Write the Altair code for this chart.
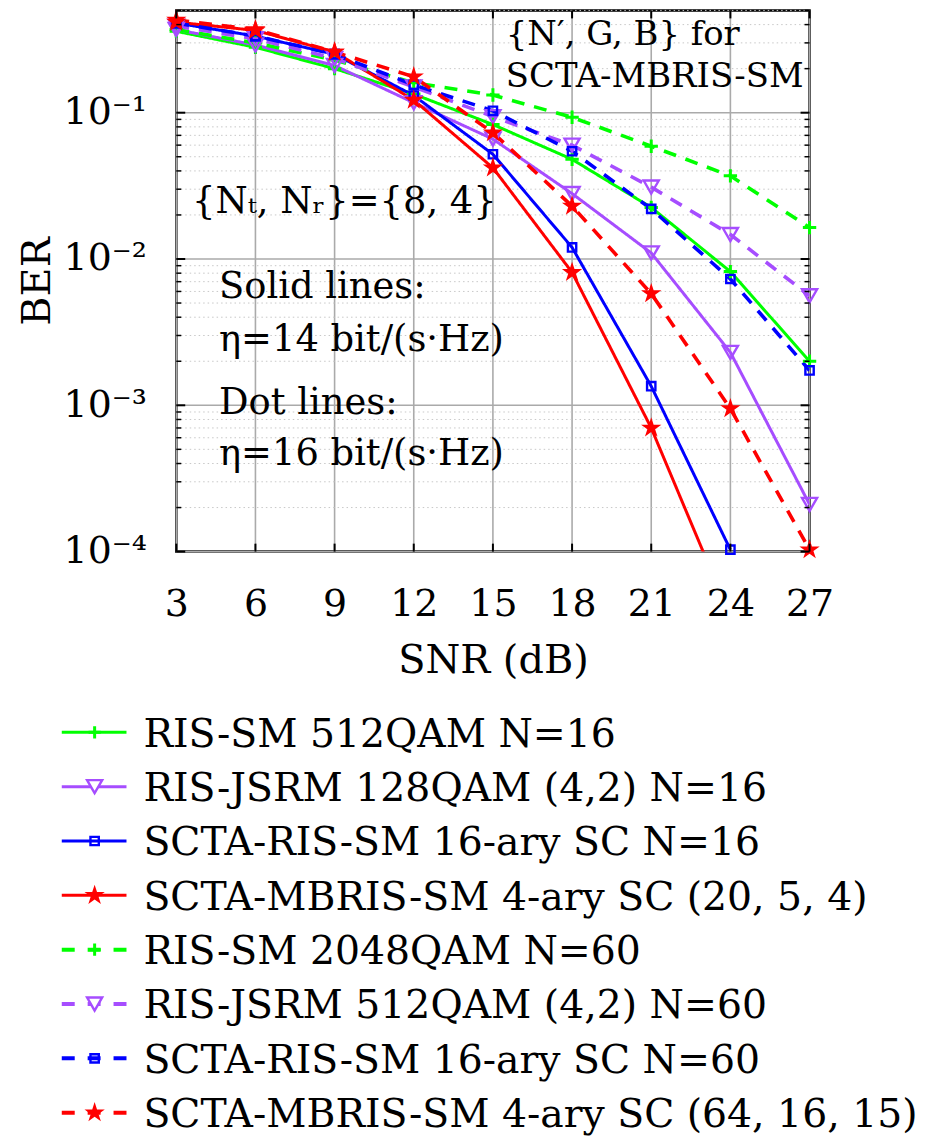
import altair as alt
import pandas as pd

FONT = "DejaVu Serif"

# ---------------- data ----------------
snr = [3, 6, 9, 12, 15, 18, 21, 24, 27]

series_names = [
    "RIS-SM 512QAM N=16",
    "RIS-JSRM 128QAM (4,2) N=16",
    "SCTA-RIS-SM 16-ary SC N=16",
    "SCTA-MBRIS-SM 4-ary SC (20, 5, 4)",
    "RIS-SM 2048QAM N=60",
    "RIS-JSRM 512QAM (4,2) N=60",
    "SCTA-RIS-SM 16-ary SC N=60",
    "SCTA-MBRIS-SM 4-ary SC (64, 16, 15)",
]
series_style = ["solid", "solid", "solid", "solid", "dash", "dash", "dash", "dash"]
series_marker = ["plus", "tri", "square", "star", "plus", "tri", "square", "star"]
series_colors = ["#00ff00", "#a64dff", "#0000ff", "#ff0000",
                 "#00ff00", "#a64dff", "#0000ff", "#ff0000"]

ris_sm_512 = [0.36, 0.28, 0.20, 0.134, 0.083, 0.048, 0.0225, 0.0082, 0.0020]
ris_jsrm_128 = [0.37, 0.29, 0.21, 0.117, 0.066, 0.028, 0.011, 0.0023, 0.00021]
scta_ris_16 = [0.41, 0.334, 0.251, 0.131, 0.052, 0.012, 0.00135, 0.000103, None]
scta_mbris_20 = [0.416, 0.365, 0.26, 0.122, 0.042, 0.0081, 0.0007, 0.000036, None]
ris_sm_2048 = [0.37, 0.30, 0.229, 0.16, 0.132, 0.093, 0.059, 0.037, 0.0164]
ris_jsrm_512 = [0.39, 0.32, 0.235, 0.15, 0.094, 0.060, 0.031, 0.0147, 0.0056]
scta_ris_16_60 = [0.41, 0.334, 0.251, 0.155, 0.103, 0.0545, 0.022, 0.0073, 0.00173]
scta_mbris_64 = [0.43, 0.37, 0.26, 0.176, 0.073, 0.023, 0.0058, 0.00095, 0.000103]

all_series = [ris_sm_512, ris_jsrm_128, scta_ris_16, scta_mbris_20,
              ris_sm_2048, ris_jsrm_512, scta_ris_16_60, scta_mbris_64]

y_major = [1e-4, 1e-3, 1e-2, 1e-1]
y_minor = [m * 10.0 ** k for k in (-4, -3, -2, -1) for m in range(2, 10) if m * 10.0 ** k <= 0.5]

annot_text = ["{N′, G, B} for", "SCTA-MBRIS-SM", "{Nₜ, Nᵣ}={8, 4}",
              "Solid lines:", "η=14 bit/(s·Hz)", "Dot lines:", "η=16 bit/(s·Hz)"]
annot_snr = [15.49, 15.49, 3.60, 4.62, 4.62, 4.62, 4.62]
annot_ber = [0.289, 0.1496, 0.0205, 0.0054, 0.00235, 0.000877, 0.000388]
annot_fs = [34, 34, 37, 37, 37, 37, 37]

# ---------------- tables ----------------
rows = []
for name, style, marker, vals in zip(series_names, series_style, series_marker, all_series):
    for s, v in zip(snr, vals):
        if v is not None:
            rows.append({"snr": s, "ber": v, "name": name, "style": style, "marker": marker})
df = pd.DataFrame(rows)

leg_df = pd.DataFrame({
    "row": list(range(len(series_names))),
    "name": series_names,
    "style": series_style,
    "marker": series_marker,
})
ann_df = pd.DataFrame({"snr": annot_snr, "ber": annot_ber, "text": annot_text, "fs": annot_fs})
xgrid_df = pd.DataFrame({"snr": snr})
ymaj_df = pd.DataFrame({"ber": y_major})
ymin_df = pd.DataFrame({"ber": y_minor})

W, H = 636, 543.5

color_scale = alt.Scale(domain=series_names, range=series_colors)
xs = alt.Scale(domain=[3, 27], nice=False, zero=False)
ys = alt.Scale(type="log", domain=[1e-4, 0.5], nice=False)

PLUS = "M-1,0L1,0M0,-1L0,1"
STAR = ("M0,-1L0.2245,-0.309L0.951,-0.309L0.363,0.118L0.588,0.809L0,0.382"
        "L-0.588,0.809L-0.363,0.118L-0.951,-0.309L-0.2245,-0.309Z")

x_enc = alt.X("snr:Q", scale=xs, axis=alt.Axis(
    values=snr, title="SNR (dB)", ticks=False, domain=False, grid=False,
    labelFontSize=38, labelPadding=34, labelFlush=False, labelOverlap=False,
    titleFontSize=40, titleY=121, titleBaseline="alphabetic"))
y_enc = alt.Y("ber:Q", scale=ys, axis=alt.Axis(
    values=y_major, title="BER", ticks=False, domain=False, grid=False,
    labelExpr="datum.value >= 0.05 ? '10⁻¹' : datum.value >= 0.005 ? '10⁻²' : datum.value >= 0.0005 ? '10⁻³' : '10⁻⁴'",
    labelFontSize=38, labelPadding=30, labelFlush=False, labelOverlap=False,
    titleFontSize=40, titleAngle=270, titleX=-127, titleY=H / 2,
    titleAlign="center", titleBaseline="alphabetic"))

# grid
xgrid = alt.Chart(xgrid_df).mark_rule(color="#aaaaaa", strokeWidth=1.6).encode(
    x=alt.X("snr:Q", scale=xs))
ymin_grid = alt.Chart(ymin_df).mark_rule(color="#c8c8c8", strokeWidth=1, strokeDash=[1.5, 3]).encode(
    y=alt.Y("ber:Q", scale=ys))
ymaj_grid = alt.Chart(ymaj_df).mark_rule(color="#aaaaaa", strokeWidth=1.6).encode(
    y=alt.Y("ber:Q", scale=ys))

# inside ticks
tick_l_min = alt.Chart(ymin_df).mark_rule(color="black", strokeWidth=1.5).encode(
    y=alt.Y("ber:Q", scale=ys), x=alt.value(0), x2=alt.value(5))
tick_r_min = alt.Chart(ymin_df).mark_rule(color="black", strokeWidth=1.5).encode(
    y=alt.Y("ber:Q", scale=ys), x=alt.value(W - 5), x2=alt.value(W))
tick_l_maj = alt.Chart(ymaj_df).mark_rule(color="black", strokeWidth=2).encode(
    y=alt.Y("ber:Q", scale=ys), x=alt.value(0), x2=alt.value(9))
tick_r_maj = alt.Chart(ymaj_df).mark_rule(color="black", strokeWidth=2).encode(
    y=alt.Y("ber:Q", scale=ys), x=alt.value(W - 9), x2=alt.value(W))
tick_b = alt.Chart(xgrid_df).mark_rule(color="black", strokeWidth=2).encode(
    x=alt.X("snr:Q", scale=xs), y=alt.value(H - 8), y2=alt.value(H))
tick_t = alt.Chart(xgrid_df).mark_rule(color="black", strokeWidth=2).encode(
    x=alt.X("snr:Q", scale=xs), y=alt.value(0), y2=alt.value(8))

# series lines
lines = alt.Chart(df).mark_line(clip=True).encode(
    x=x_enc, y=y_enc,
    color=alt.Color("name:N", scale=color_scale, legend=None),
    strokeDash=alt.StrokeDash("style:N", scale=alt.Scale(domain=["solid", "dash"], range=[[1, 0], [13, 10]]), legend=None),
    strokeWidth=alt.StrokeWidth("style:N", scale=alt.Scale(domain=["solid", "dash"], range=[3, 3.6]), legend=None),
    detail="name:N",
)

pts_base = alt.Chart(df).transform_filter("datum.ber >= 0.0001").encode(
    x=alt.X("snr:Q", scale=xs), y=alt.Y("ber:Q", scale=ys),
    color=alt.Color("name:N", scale=color_scale, legend=None))
p_plus = pts_base.transform_filter("datum.marker == 'plus'").mark_point(
    shape=PLUS, size=180, filled=False, strokeWidth=3, opacity=1)
p_tri = pts_base.transform_filter("datum.marker == 'tri'").mark_point(
    shape="triangle-down", size=230, filled=False, strokeWidth=2.4, opacity=1)
p_sq = pts_base.transform_filter("datum.marker == 'square'").mark_point(
    shape="square", size=70, filled=False, strokeWidth=2.4, opacity=1)
p_star = pts_base.transform_filter("datum.marker == 'star'").mark_point(
    shape=STAR, size=460, filled=True, opacity=1)

annots = alt.Chart(ann_df).mark_text(align="left", baseline="alphabetic", font=FONT, color="black").encode(
    x=alt.X("snr:Q", scale=xs), y=alt.Y("ber:Q", scale=ys), text="text:N",
    size=alt.Size("fs:Q", scale=None, legend=None))

main = alt.layer(xgrid, ymin_grid, ymaj_grid, lines, p_plus, p_tri, p_sq, p_star,
                 tick_l_min, tick_r_min, tick_l_maj, tick_r_maj, tick_b, tick_t, annots)

# ---------------- legend ----------------
leg_y = alt.Y("row:Q", scale=alt.Scale(domain=[0, 7], range=[725, 1107], nice=False, zero=False), axis=None)
leg_base = alt.Chart(leg_df).encode(
    y=leg_y, color=alt.Color("name:N", scale=color_scale, legend=None))
leg_line = leg_base.mark_rule().encode(
    x=alt.value(-115), x2=alt.value(-50),
    strokeDash=alt.StrokeDash("style:N", scale=alt.Scale(domain=["solid", "dash"], range=[[1, 0], [13, 13]]), legend=None),
    strokeWidth=alt.StrokeWidth("style:N", scale=alt.Scale(domain=["solid", "dash"], range=[3, 4]), legend=None))
l_plus = leg_base.transform_filter("datum.marker == 'plus'").mark_point(
    shape=PLUS, size=150, filled=False, strokeWidth=3, opacity=1).encode(x=alt.value(-82))
l_tri = leg_base.transform_filter("datum.marker == 'tri'").mark_point(
    shape="triangle-down", size=230, filled=False, strokeWidth=2.4, opacity=1, fill="white").encode(x=alt.value(-82))
l_sq = leg_base.transform_filter("datum.marker == 'square'").mark_point(
    shape="square", size=70, filled=False, strokeWidth=2.4, opacity=1).encode(x=alt.value(-82))
l_star = leg_base.transform_filter("datum.marker == 'star'").mark_point(
    shape=STAR, size=460, filled=True, opacity=1).encode(x=alt.value(-82))
leg_text = alt.Chart(leg_df).mark_text(align="left", baseline="alphabetic", dy=14.5,
                                       font=FONT, fontSize=39.5, color="black").encode(
    y=leg_y, x=alt.value(-33), text="name:N")

legend = alt.layer(leg_line, l_plus, l_tri, l_sq, l_star, leg_text)

chart = alt.layer(main, legend).resolve_scale(
    y="independent", strokeDash="independent", strokeWidth="independent"
).properties(
    width=W, height=H,
    autosize=alt.AutoSizeParams(type="none"),
    padding={"left": 169, "top": 0, "right": 128, "bottom": 590},
).configure_view(
    stroke="black", strokeWidth=2.5
).configure_axis(
    labelFont=FONT, titleFont=FONT, labelColor="black", titleColor="black",
    titleFontWeight="normal"
).configure_text(font=FONT)

chart.save("out.html", embed_options={"renderer": "svg", "actions": False})
